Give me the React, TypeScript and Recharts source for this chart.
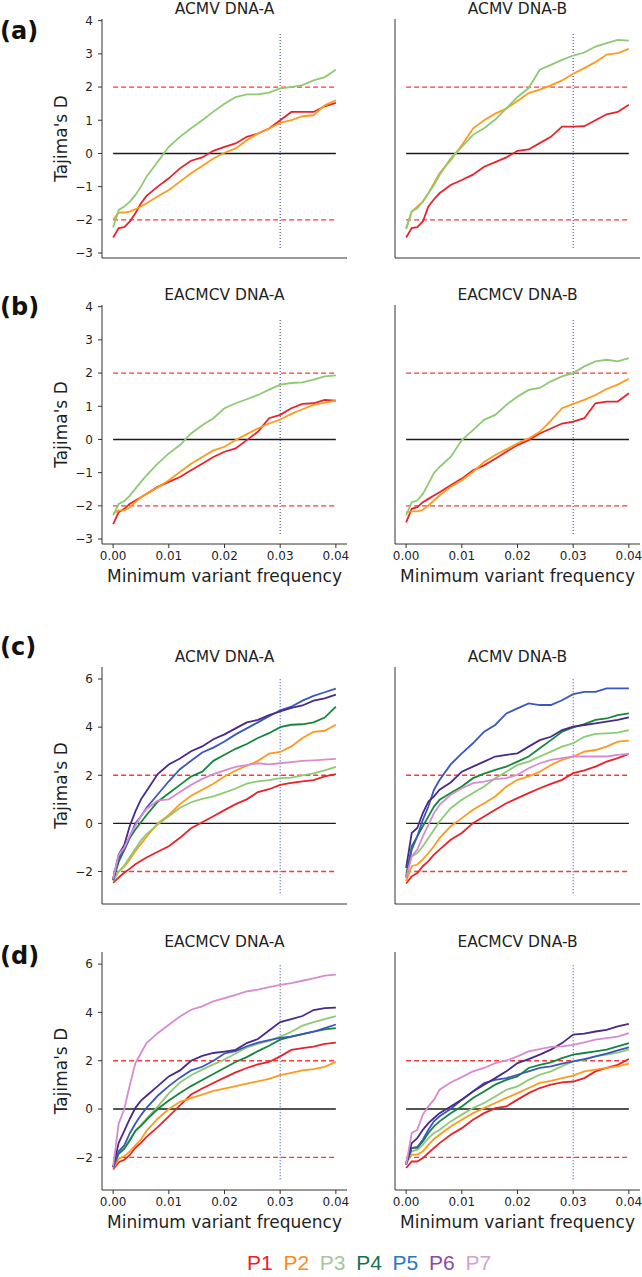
import React from "react";
import { LineChart, Line, XAxis, YAxis, ReferenceLine } from "recharts";

// minimum variant frequency grid (fine at the start, where the curves are steep)
const freq = [
  0, 0.001, 0.002, 0.003, 0.004, 0.005, 0.006, 0.008, 0.01, 0.012, 0.014, 0.016,
  0.018, 0.02, 0.022, 0.024, 0.026, 0.028, 0.03, 0.032, 0.034, 0.036, 0.038, 0.04,
];
const xTicks = [0, 0.01, 0.02, 0.03, 0.04];
const yTicksAB = [-3, -2, -1, 0, 1, 2, 3, 4];
const yTicksCD = [-2, 0, 2, 4, 6];
const legendNames = ["P1", "P2", "P3", "P4", "P5", "P6", "P7"];

// (a) ACMV DNA-A
const aA_P1 = [-2.53, -2.25, -2.22, -2.05, -1.8, -1.5, -1.28, -1.0, -0.75, -0.45, -0.22, -0.12, 0.08, 0.2, 0.3, 0.5, 0.6, 0.75, 1.0, 1.25, 1.25, 1.25, 1.42, 1.52];
const aA_P2 = [-2.0, -1.78, -1.78, -1.75, -1.68, -1.6, -1.5, -1.3, -1.1, -0.85, -0.6, -0.38, -0.15, 0.02, 0.15, 0.4, 0.6, 0.75, 0.92, 1.0, 1.12, 1.15, 1.45, 1.6];
const aA_P3 = [-2.23, -1.7, -1.6, -1.45, -1.25, -1.0, -0.7, -0.25, 0.2, 0.5, 0.76, 1.0, 1.26, 1.5, 1.7, 1.78, 1.78, 1.83, 1.96, 2.0, 2.06, 2.2, 2.3, 2.52];
// (a) ACMV DNA-B
const aB_P1 = [-2.53, -2.25, -2.22, -2.05, -1.6, -1.38, -1.2, -0.95, -0.8, -0.64, -0.4, -0.26, -0.12, 0.08, 0.12, 0.31, 0.5, 0.81, 0.81, 0.82, 1.0, 1.18, 1.25, 1.47];
const aB_P2 = [-2.25, -1.75, -1.6, -1.45, -1.2, -0.9, -0.6, -0.2, 0.25, 0.75, 1.0, 1.2, 1.35, 1.58, 1.82, 1.92, 2.05, 2.2, 2.4, 2.57, 2.75, 2.98, 3.02, 3.15];
const aB_P3 = [-2.28, -1.75, -1.65, -1.45, -1.2, -0.95, -0.65, -0.15, 0.2, 0.56, 0.76, 1.02, 1.36, 1.7, 1.97, 2.52, 2.67, 2.82, 2.95, 3.04, 3.22, 3.32, 3.42, 3.4];
// (b) EACMCV DNA-A
const bA_P1 = [-2.55, -2.19, -2.09, -1.94, -1.84, -1.74, -1.64, -1.43, -1.28, -1.13, -0.93, -0.73, -0.53, -0.37, -0.27, -0.02, 0.23, 0.64, 0.74, 0.94, 1.07, 1.09, 1.19, 1.17];
const bA_P2 = [-2.24, -2.14, -2.14, -2.04, -1.89, -1.74, -1.64, -1.45, -1.23, -0.98, -0.73, -0.53, -0.33, -0.22, -0.02, 0.16, 0.33, 0.48, 0.6, 0.77, 0.91, 1.04, 1.11, 1.17];
const bA_P3 = [-2.29, -1.94, -1.86, -1.69, -1.48, -1.28, -1.08, -0.73, -0.42, -0.17, 0.18, 0.43, 0.64, 0.94, 1.09, 1.21, 1.34, 1.5, 1.65, 1.7, 1.72, 1.8, 1.9, 1.93];
// (b) EACMCV DNA-B
const bB_P1 = [-2.5, -2.09, -2.04, -1.89, -1.79, -1.69, -1.59, -1.38, -1.18, -0.93, -0.78, -0.58, -0.37, -0.17, -0.02, 0.18, 0.33, 0.48, 0.54, 0.64, 1.09, 1.14, 1.14, 1.39];
const bB_P2 = [-2.19, -2.17, -2.17, -2.12, -1.99, -1.84, -1.69, -1.43, -1.23, -0.98, -0.68, -0.47, -0.3, -0.12, 0.03, 0.23, 0.57, 0.94, 1.07, 1.19, 1.34, 1.52, 1.65, 1.83];
const bB_P3 = [-2.29, -1.89, -1.84, -1.64, -1.33, -1.01, -0.83, -0.53, -0.02, 0.28, 0.59, 0.74, 1.04, 1.29, 1.49, 1.55, 1.75, 1.9, 2.0, 2.2, 2.35, 2.4, 2.35, 2.45];
// (c) ACMV DNA-A
const cA_P1 = [-2.47, -2.25, -2.05, -1.88, -1.7, -1.55, -1.42, -1.18, -0.95, -0.6, -0.2, 0.05, 0.3, 0.55, 0.8, 1.0, 1.3, 1.42, 1.6, 1.68, 1.75, 1.8, 1.95, 2.05];
const cA_P2 = [-2.3, -2.0, -1.8, -1.5, -1.15, -0.85, -0.55, 0.0, 0.35, 0.8, 1.15, 1.4, 1.65, 1.95, 2.2, 2.4, 2.6, 2.9, 2.97, 3.2, 3.55, 3.8, 3.85, 4.1];
const cA_P3 = [-2.4, -2.0, -1.75, -1.4, -1.05, -0.7, -0.45, -0.05, 0.3, 0.65, 0.88, 1.02, 1.12, 1.28, 1.45, 1.65, 1.75, 1.8, 1.88, 1.9, 2.0, 2.08, 2.2, 2.35];
const cA_P4 = [-2.35, -1.6, -1.1, -0.6, -0.25, 0.05, 0.35, 0.9, 1.25, 1.6, 1.95, 2.15, 2.6, 2.85, 3.1, 3.3, 3.55, 3.75, 4.0, 4.1, 4.12, 4.2, 4.4, 4.85];
const cA_P5 = [-2.35, -1.45, -1.1, -0.55, 0.0, 0.3, 0.65, 1.2, 1.75, 2.25, 2.6, 2.95, 3.15, 3.4, 3.7, 3.95, 4.2, 4.45, 4.7, 4.85, 5.1, 5.3, 5.45, 5.6];
const cA_P6 = [-2.3, -1.3, -0.9, -0.1, 0.5, 1.0, 1.35, 2.05, 2.45, 2.7, 3.0, 3.2, 3.5, 3.7, 3.95, 4.2, 4.3, 4.5, 4.65, 4.8, 4.9, 5.1, 5.2, 5.35];
const cA_P7 = [-2.3, -1.3, -1.0, -0.5, -0.1, 0.3, 0.6, 0.95, 1.0, 1.3, 1.6, 1.85, 2.05, 2.2, 2.35, 2.42, 2.5, 2.45, 2.5, 2.55, 2.6, 2.62, 2.65, 2.68];
// (c) ACMV DNA-B
const cB_P1 = [-2.5, -2.2, -2.06, -1.78, -1.57, -1.3, -1.09, -0.68, -0.4, 0.01, 0.29, 0.57, 0.84, 1.05, 1.26, 1.46, 1.64, 1.81, 2.09, 2.2, 2.36, 2.57, 2.71, 2.89];
const cB_P2 = [-2.4, -1.78, -1.71, -1.5, -1.23, -0.95, -0.61, -0.12, 0.22, 0.57, 0.84, 1.12, 1.53, 1.81, 1.95, 2.15, 2.43, 2.64, 2.78, 2.98, 3.05, 3.19, 3.4, 3.44];
const cB_P3 = [-2.06, -1.37, -1.23, -0.95, -0.61, -0.26, 0.08, 0.63, 0.98, 1.26, 1.53, 1.88, 2.15, 2.43, 2.57, 2.78, 2.98, 3.19, 3.33, 3.6, 3.72, 3.74, 3.77, 3.88];
const cB_P4 = [-2.2, -0.95, -0.54, -0.12, 0.29, 0.7, 0.98, 1.26, 1.53, 1.88, 2.07, 2.22, 2.36, 2.57, 2.78, 3.12, 3.46, 3.81, 3.99, 4.13, 4.3, 4.36, 4.5, 4.57];
const cB_P5 = [-2.27, -1.09, -0.54, 0.15, 0.7, 1.4, 1.8, 2.45, 2.91, 3.33, 3.81, 4.09, 4.57, 4.78, 4.99, 4.92, 4.92, 5.12, 5.37, 5.47, 5.47, 5.61, 5.61, 5.61];
const cB_P6 = [-1.85, -0.4, -0.19, 0.43, 0.91, 1.12, 1.4, 1.7, 2.15, 2.36, 2.57, 2.78, 2.85, 2.91, 3.19, 3.46, 3.6, 3.88, 4.02, 4.09, 4.16, 4.23, 4.3, 4.41];
const cB_P7 = [-2.27, -1.37, -1.09, -0.54, -0.06, 0.43, 0.77, 1.19, 1.46, 1.67, 1.74, 1.84, 1.88, 2.02, 2.29, 2.5, 2.64, 2.71, 2.78, 2.78, 2.78, 2.78, 2.85, 2.89];
// (d) EACMCV DNA-A
const dA_P1 = [-2.5, -2.2, -2.1, -1.9, -1.6, -1.4, -1.15, -0.75, -0.3, 0.15, 0.6, 0.85, 1.08, 1.3, 1.52, 1.7, 1.85, 1.95, 2.18, 2.45, 2.52, 2.58, 2.7, 2.75];
const dA_P2 = [-2.45, -2.05, -1.95, -1.75, -1.5, -1.25, -0.9, -0.4, 0.0, 0.3, 0.45, 0.6, 0.75, 0.85, 0.95, 1.05, 1.15, 1.25, 1.4, 1.5, 1.6, 1.65, 1.75, 1.95];
const dA_P3 = [-2.4, -1.8, -1.6, -1.25, -0.9, -0.65, -0.4, 0.1, 0.65, 1.1, 1.4, 1.63, 1.85, 2.05, 2.3, 2.55, 2.7, 2.82, 3.0, 3.2, 3.45, 3.6, 3.72, 3.85];
const dA_P4 = [-2.4, -1.85, -1.65, -1.3, -0.9, -0.7, -0.45, 0.0, 0.35, 0.66, 0.95, 1.2, 1.45, 1.7, 1.95, 2.15, 2.4, 2.62, 2.87, 3.0, 3.1, 3.2, 3.3, 3.35];
const dA_P5 = [-2.4, -1.75, -1.5, -1.0, -0.6, -0.25, 0.05, 0.55, 0.95, 1.3, 1.6, 1.75, 2.0, 2.3, 2.4, 2.6, 2.75, 2.85, 2.95, 3.0, 3.1, 3.2, 3.35, 3.5];
const dA_P6 = [-2.4, -1.4, -0.9, -0.4, 0.05, 0.35, 0.55, 0.95, 1.35, 1.6, 2.0, 2.2, 2.32, 2.38, 2.45, 2.73, 2.9, 3.25, 3.6, 3.72, 3.85, 4.1, 4.18, 4.2];
const dA_P7 = [-2.37, -0.6, 0.0, 1.0, 1.9, 2.32, 2.73, 3.14, 3.49, 3.83, 4.11, 4.25, 4.46, 4.59, 4.73, 4.87, 4.94, 5.05, 5.14, 5.21, 5.31, 5.41, 5.52, 5.56];
// (d) EACMCV DNA-B
const dB_P1 = [-2.44, -2.17, -2.17, -2.03, -1.82, -1.61, -1.41, -1.06, -0.79, -0.44, -0.17, 0.04, 0.11, 0.39, 0.66, 0.87, 1.01, 1.1, 1.14, 1.28, 1.56, 1.7, 1.83, 2.07];
const dB_P2 = [-2.23, -1.89, -1.89, -1.75, -1.48, -1.24, -1.06, -0.72, -0.44, -0.17, 0.04, 0.25, 0.46, 0.66, 0.87, 1.08, 1.17, 1.28, 1.38, 1.56, 1.63, 1.7, 1.77, 1.88];
const dB_P3 = [-2.23, -1.75, -1.68, -1.48, -1.2, -0.99, -0.86, -0.51, -0.23, 0.04, 0.25, 0.52, 0.8, 0.94, 1.21, 1.42, 1.56, 1.77, 1.97, 2.04, 2.18, 2.25, 2.34, 2.46];
const dB_P4 = [-2.23, -1.61, -1.61, -1.34, -0.99, -0.72, -0.51, -0.17, 0.11, 0.46, 0.73, 1.01, 1.21, 1.35, 1.7, 1.83, 1.93, 2.11, 2.25, 2.32, 2.39, 2.46, 2.59, 2.73];
const dB_P5 = [-2.3, -1.61, -1.57, -1.27, -0.86, -0.51, -0.3, 0.0, 0.39, 0.73, 1.08, 1.21, 1.28, 1.42, 1.56, 1.7, 1.77, 1.88, 1.97, 2.07, 2.18, 2.29, 2.43, 2.55];
const dB_P6 = [-2.3, -1.41, -1.2, -0.86, -0.58, -0.37, -0.17, 0.11, 0.39, 0.73, 1.01, 1.28, 1.56, 1.9, 2.07, 2.25, 2.46, 2.73, 3.08, 3.12, 3.21, 3.28, 3.42, 3.53];
const dB_P7 = [-2.3, -0.99, -0.86, -0.23, 0.11, 0.39, 0.8, 1.1, 1.32, 1.56, 1.7, 1.9, 2.01, 2.18, 2.39, 2.48, 2.57, 2.59, 2.66, 2.76, 2.87, 2.94, 3.0, 3.14];

const lineColors: Record<string, string> = {
  P1: "#e8232a",
  P2: "#fd9b1c",
  P3: "#8dca74",
  P4: "#17853d",
  P5: "#3a58bb",
  P6: "#472a8a",
  P7: "#d68cd0",
};
const legendColors = ["#e8232a", "#fb8a1d", "#a6c79c", "#19714a", "#2479c6", "#8b49a6", "#d2a2d3"];

const FONT = "'DejaVu Sans', Verdana, sans-serif";
const TEXT = "#1f1f1f";
const AXIS = "#333333";

const X_DOMAIN = [-0.002, 0.042];
const COL_LEFT = [102, 395];
const PLOT_W = 245;

type Series = { name: string; values: number[] };

type PanelProps = {
  left: number;
  top: number;
  height: number;
  yDomain: number[];
  yTicks: number[];
  vline: number[];
  series: Series[];
  showY: boolean;
  showX: boolean;
};

const fmtY = (v: number) => (v < 0 ? `\u2212${Math.abs(v)}` : `${v}`);

function Panel({ left, top, height, yDomain, yTicks, vline, series, showY, showX }: PanelProps) {
  const data = freq.map((x, i) => {
    const row: Record<string, number> = { x };
    series.forEach((s) => {
      row[s.name] = s.values[i];
    });
    return row;
  });
  const YW = 50;
  const MT = 6;
  const MR = 6;
  const XH = 28;
  const tickStyle = { fontSize: 12, fill: TEXT, fontFamily: FONT };

  return (
    <div style={{ position: "absolute", left: left - YW, top: top - MT }}>
      <LineChart
        width={YW + PLOT_W + MR}
        height={MT + height + XH}
        data={data}
        margin={{ top: MT, right: MR, left: 0, bottom: 0 }}
      >
        <XAxis
          type="number"
          dataKey="x"
          domain={X_DOMAIN}
          ticks={xTicks}
          allowDataOverflow
          height={XH}
          tickSize={4}
          tickMargin={3}
          tick={showX ? tickStyle : false}
          tickFormatter={(v: number) => v.toFixed(2)}
          axisLine={{ stroke: AXIS, strokeWidth: 1 }}
          tickLine={{ stroke: AXIS, strokeWidth: 1 }}
        />
        <YAxis
          type="number"
          domain={yDomain}
          ticks={yTicks}
          allowDataOverflow
          width={YW}
          tickSize={4}
          tickMargin={5}
          tick={showY ? tickStyle : false}
          tickFormatter={fmtY}
          axisLine={{ stroke: AXIS, strokeWidth: 1 }}
          tickLine={{ stroke: AXIS, strokeWidth: 1 }}
        />
        <ReferenceLine
          segment={[{ x: 0, y: 2 }, { x: 0.04, y: 2 }]}
          stroke="#f23b3b"
          strokeWidth={1.3}
          strokeDasharray="5 3"
        />
        <ReferenceLine
          segment={[{ x: 0, y: -2 }, { x: 0.04, y: -2 }]}
          stroke="#f23b3b"
          strokeWidth={1.3}
          strokeDasharray="5 3"
        />
        <ReferenceLine
          segment={[{ x: 0, y: 0 }, { x: 0.04, y: 0 }]}
          stroke="#1a1a1a"
          strokeWidth={1.4}
        />
        <ReferenceLine
          segment={[{ x: 0.03, y: vline[0] }, { x: 0.03, y: vline[1] }]}
          stroke="#3347c8"
          strokeWidth={1.1}
          strokeDasharray="1 2"
        />
        {series.map((s) => (
          <Line
            key={s.name}
            type="linear"
            dataKey={s.name}
            stroke={lineColors[s.name]}
            strokeWidth={1.8}
            dot={false}
            isAnimationActive={false}
          />
        ))}
      </LineChart>
    </div>
  );
}

const mk = (arrs: number[][]): Series[] => arrs.map((values, i) => ({ name: `P${i + 1}`, values }));

const rows = [
  {
    label: "(a)",
    labelY: 38.5,
    top: 19,
    height: 239,
    yDomain: [-3.15, 4.05],
    yTicks: yTicksAB,
    vline: [-2.85, 3.65],
    showX: false,
    titles: ["ACMV DNA-A", "ACMV DNA-B"],
    series: [mk([aA_P1, aA_P2, aA_P3]), mk([aB_P1, aB_P2, aB_P3])],
  },
  {
    label: "(b)",
    labelY: 315,
    top: 305,
    height: 239,
    yDomain: [-3.15, 4.05],
    yTicks: yTicksAB,
    vline: [-2.85, 3.65],
    showX: true,
    titles: ["EACMCV DNA-A", "EACMCV DNA-B"],
    series: [mk([bA_P1, bA_P2, bA_P3]), mk([bB_P1, bB_P2, bB_P3])],
  },
  {
    label: "(c)",
    labelY: 655,
    top: 667,
    height: 237,
    yDomain: [-3.35, 6.5],
    yTicks: yTicksCD,
    vline: [-2.9, 6.0],
    showX: false,
    titles: ["ACMV DNA-A", "ACMV DNA-B"],
    series: [
      mk([cA_P1, cA_P2, cA_P3, cA_P4, cA_P5, cA_P6, cA_P7]),
      mk([cB_P1, cB_P2, cB_P3, cB_P4, cB_P5, cB_P6, cB_P7]),
    ],
  },
  {
    label: "(d)",
    labelY: 963.5,
    top: 952,
    height: 238,
    yDomain: [-3.35, 6.5],
    yTicks: yTicksCD,
    vline: [-2.9, 6.0],
    showX: true,
    titles: ["EACMCV DNA-A", "EACMCV DNA-B"],
    series: [
      mk([dA_P1, dA_P2, dA_P3, dA_P4, dA_P5, dA_P6, dA_P7]),
      mk([dB_P1, dB_P2, dB_P3, dB_P4, dB_P5, dB_P6, dB_P7]),
    ],
  },
];

export default function App() {
  return (
    <div
      style={{
        position: "absolute",
        left: 0,
        top: 0,
        width: 642,
        height: 1277,
        background: "#fff",
        overflow: "hidden",
      }}
    >
      <svg width={642} height={1277} style={{ position: "absolute", left: 0, top: 0 }}>
        {rows.map((r) => (
          <g key={r.label}>
            <text x={0} y={r.labelY} fontFamily={FONT} fontWeight="bold" fontSize={24} fill="#111">
              {r.label}
            </text>
            {r.titles.map((t, c) => (
              <text
                key={t + c}
                x={COL_LEFT[c] + PLOT_W / 2}
                y={r.top - 5}
                textAnchor="middle"
                fontFamily={FONT}
                fontSize={15.5}
                fill={TEXT}
              >
                {t}
              </text>
            ))}
            <text
              transform={`translate(67, ${r.top + r.height / 2}) rotate(-90)`}
              textAnchor="middle"
              fontFamily={FONT}
              fontSize={17}
              fill={TEXT}
            >
              Tajima's D
            </text>
            {r.showX &&
              COL_LEFT.map((cl) => (
                <text
                  key={cl}
                  x={cl + PLOT_W / 2}
                  y={r.top + r.height + 37.5}
                  textAnchor="middle"
                  fontFamily={FONT}
                  fontSize={17}
                  fill={TEXT}
                >
                  Minimum variant frequency
                </text>
              ))}
          </g>
        ))}
        {legendNames.map((n, i) => (
          <text
            key={n}
            x={247 + i * 36.4}
            y={1270}
            fontFamily="'Liberation Sans', Arial, sans-serif"
            fontSize={21}
            fill={legendColors[i]}
          >
            {n}
          </text>
        ))}
      </svg>
      {rows.map((r) =>
        COL_LEFT.map((cl, c) => (
          <Panel
            key={r.label + c}
            left={cl}
            top={r.top}
            height={r.height}
            yDomain={r.yDomain}
            yTicks={r.yTicks}
            vline={r.vline}
            series={r.series[c]}
            showY={c === 0}
            showX={r.showX}
          />
        ))
      )}
    </div>
  );
}
